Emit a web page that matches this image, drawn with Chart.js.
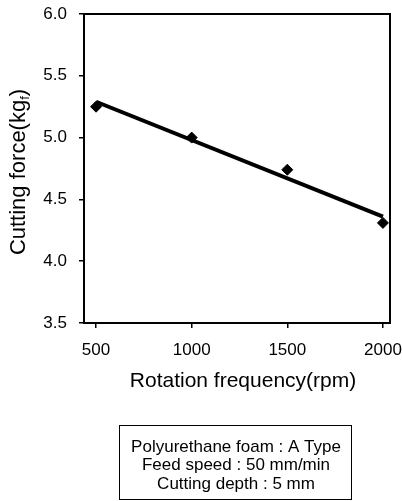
<!DOCTYPE html>
<html>
<head>
<meta charset="utf-8">
<script src="https://cdn.jsdelivr.net/npm/chart.js@4"></script>
<style>
  html, body { margin: 0; padding: 0; background: #fff; }
  #wrap { width: 402px; height: 501px; position: relative; }
</style>
</head>
<body>
<div id="wrap"><canvas id="chartOne"></canvas></div>
<script>
// values
const rpm = [500, 1000, 1500, 2000];
const force = [5.25, 5.0, 4.74, 4.31];
const trendX = [500, 2000];
const trendY = [5.29, 4.36];
const xTicks = [500, 1000, 1500, 2000];
const yTicks = [3.5, 4.0, 4.5, 5.0, 5.5, 6.0];
const noteLines = ['Polyurethane foam : A Type', 'Feed speed : 50 mm/min', 'Cutting depth : 5 mm'];

const FONT = 'Liberation Sans, Arial, sans-serif';

// frame, axis titles (with subscript) and the note box
const extras = {
  id: 'extras',
  afterDraw(chart) {
    const ctx = chart.ctx;
    const a = chart.chartArea;
    ctx.save();
    ctx.strokeStyle = '#000';
    ctx.lineWidth = 2;
    ctx.strokeRect(a.left, a.top, a.right - a.left, a.bottom - a.top);

    ctx.fillStyle = '#000';
    // x title
    ctx.font = '21px ' + FONT;
    ctx.textAlign = 'center';
    ctx.textBaseline = 'middle';
    ctx.fillText('Rotation frequency(rpm)', 243, 381);

    // y title, rotated, with subscript f
    ctx.save();
    ctx.translate(19, 172);
    ctx.rotate(-Math.PI / 2);
    const main = 'Cutting force(kg';
    ctx.font = '22px ' + FONT;
    const w1 = ctx.measureText(main).width;
    ctx.font = '13px ' + FONT;
    const w2 = ctx.measureText('f').width;
    ctx.font = '22px ' + FONT;
    const w3 = ctx.measureText(')').width;
    let x = -(w1 + w2 + w3) / 2;
    ctx.textAlign = 'left';
    ctx.fillText(main, x, 0);
    x += w1;
    ctx.font = '13px ' + FONT;
    ctx.fillText('f', x, 6);
    x += w2;
    ctx.font = '22px ' + FONT;
    ctx.fillText(')', x, 0);
    ctx.restore();

    // note box
    ctx.lineWidth = 1;
    ctx.strokeRect(119.5, 425.5, 232, 74);
    ctx.font = '17px ' + FONT;
    ctx.textAlign = 'center';
    noteLines.forEach((t, i) => ctx.fillText(t, 236, 447 + i * 18.5));
    ctx.restore();
  }
};

const chart1 = document.getElementById('chartOne').getContext('2d');
const myChart = new Chart(chart1, {
  type: 'scatter',
  data: {
    datasets: [{
      label: 'measured',
      data: rpm.map((v, i) => ({ x: v, y: force[i] })),
      pointStyle: 'rectRot',
      pointRadius: 5.5,
      backgroundColor: '#000',
      borderColor: '#000',
      showLine: false
    }, {
      label: 'trend',
      data: trendX.map((v, i) => ({ x: v, y: trendY[i] })),
      showLine: true,
      borderColor: '#000',
      borderWidth: 4,
      pointRadius: 0
    }]
  },
  plugins: [extras],
  options: {
    responsive: true,
    maintainAspectRatio: false,
    animation: false,
    layout: { padding: { top: 14, right: 12, left: 0, bottom: 0 } },
    plugins: { legend: { display: false }, tooltip: { enabled: false } },
    scales: {
      x: {
        type: 'linear',
        min: 437,
        max: 2037,
        afterBuildTicks: s => { s.ticks = xTicks.map(v => ({ value: v })); },
        afterFit: s => { s.height = 178; s.paddingLeft = 0; s.paddingRight = 0; },
        grid: { drawOnChartArea: false, tickLength: 5, color: '#000', lineWidth: 1.5 },
        border: { display: false },
        ticks: { color: '#000', font: { family: FONT, size: 17 }, padding: 12, maxRotation: 0, callback: v => String(v) }
      },
      y: {
        min: 3.5,
        max: 6.0,
        afterBuildTicks: s => { s.ticks = yTicks.map(v => ({ value: v })); },
        afterFit: s => { s.width = 84; s.paddingTop = 0; s.paddingBottom = 0; },
        grid: { drawOnChartArea: false, tickLength: 5, color: '#000', lineWidth: 1.5 },
        border: { display: false },
        ticks: { color: '#000', font: { family: FONT, size: 17 }, padding: 12, callback: v => v.toFixed(1) }
      }
    }
  }
});
</script>
</body>
</html>
